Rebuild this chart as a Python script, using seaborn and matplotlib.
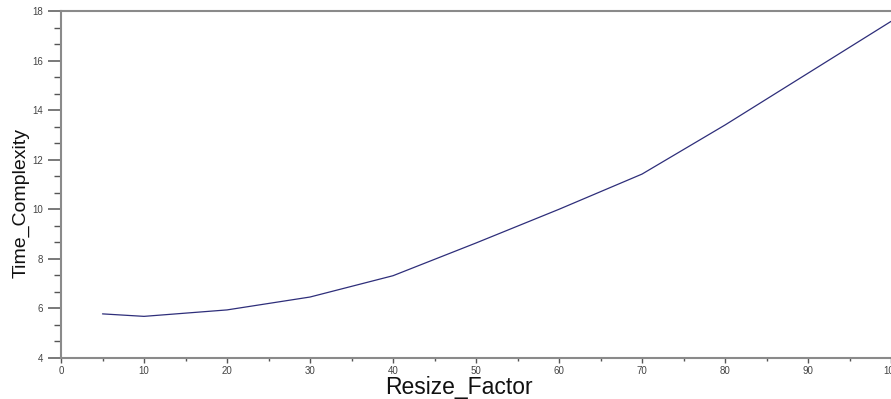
import numpy as np
import pandas as pd
import matplotlib
matplotlib.use("Agg")
import matplotlib.pyplot as plt
import seaborn as sns
from matplotlib.ticker import MultipleLocator

# values
resize_factor = [5, 10, 20, 30, 40, 50, 60, 70, 80, 90, 100]
time_complexity = [5.78, 5.68, 5.94, 6.46, 7.32, 8.64, 10.0, 11.42, 13.4, 15.49, 17.58]

df = pd.DataFrame({"Resize_Factor": resize_factor, "Time_Complexity": time_complexity})

sns.set_style("white")
plt.rcParams["font.family"] = ["Liberation Sans", "DejaVu Sans"]

fig = plt.figure(figsize=(8.91, 3.99), dpi=100)
ax = fig.add_axes([61 / 891, 1 - 358 / 399, 1 - 61 / 891, (358 - 11) / 399])

sns.lineplot(data=df, x="Resize_Factor", y="Time_Complexity", ax=ax,
             color="#2e2e7a", linewidth=0.9)

ax.set_xlim(0, 100)
ax.set_ylim(4, 18)
ax.xaxis.set_major_locator(MultipleLocator(10))
ax.xaxis.set_minor_locator(MultipleLocator(5))
ax.yaxis.set_major_locator(MultipleLocator(2))
ax.yaxis.set_minor_locator(MultipleLocator(2 / 3))

for side in ["left", "bottom", "top"]:
    ax.spines[side].set_color("#8a8a8a")
    ax.spines[side].set_linewidth(1.5)
ax.spines["right"].set_visible(False)

ax.tick_params(axis="y", which="major", direction="out", length=9.4, width=1.1,
               color="#555555", labelsize=7, labelcolor="#444444", pad=3.5, left=True)
ax.tick_params(axis="y", which="minor", direction="out", length=5, width=1.0,
               color="#555555", left=True)
ax.tick_params(axis="x", which="major", direction="out", length=3.5, width=1.0,
               color="#555555", labelsize=7, labelcolor="#444444", pad=2.5, bottom=True)
ax.tick_params(axis="x", which="minor", direction="out", length=2, width=1.0,
               color="#555555", bottom=True)

ax.set_xlabel("Resize_Factor", fontsize=16.5, color="#111111", va="baseline")
ax.xaxis.set_label_coords(0.48, -0.104)
ax.set_ylabel("Time_Complexity", fontsize=14, color="#111111", va="center")
ax.yaxis.set_label_coords(-0.048, 0.447)

fig.savefig("out.png", dpi=100)
